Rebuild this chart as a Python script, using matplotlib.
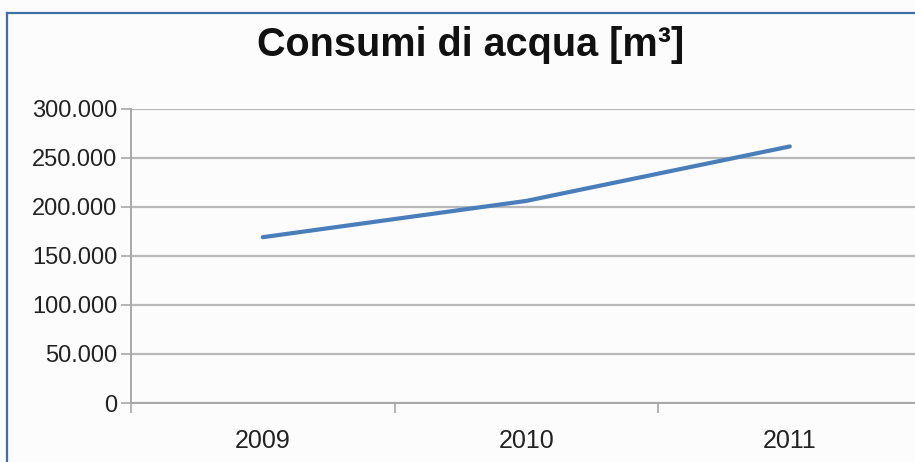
import matplotlib
matplotlib.use('Agg')
import matplotlib.pyplot as plt
from matplotlib.lines import Line2D

anni = ['2009', '2010', '2011']
consumi = [169000, 206000, 261500]
y_ticks = [0, 50000, 100000, 150000, 200000, 250000, 300000]
y_labels = ['0', '50.000', '100.000', '150.000', '200.000', '250.000', '300.000']

plt.rcParams['font.family'] = ['Liberation Sans', 'DejaVu Sans']

fig = plt.figure(figsize=(9.15, 4.62), dpi=100)
fig.patch.set_facecolor('#fcfcfc')

# cornice blu (solo sopra e a sinistra, il resto e' tagliato)
fig.add_artist(Line2D([7/915, 1], [1 - 13/462, 1 - 13/462], color='#3d6fa8', lw=1.6))
fig.add_artist(Line2D([7/915, 7/915], [0, 1 - 13/462], color='#3d6fa8', lw=1.6))

ax = fig.add_axes([131/915, 59/462, 3*263.5/915, 294.3/462])
ax.set_facecolor('#fcfcfc')

x = [i + 0.5 for i in range(len(anni))]
ax.plot(x, consumi, color='#4a7ebb', lw=3, solid_capstyle='round', zorder=3)

ax.set_xlim(0, 3)
ax.set_ylim(0, 300000)
ax.set_yticks(y_ticks)
ax.set_yticklabels(y_labels, fontsize=17, color='#222222')
ax.grid(axis='y', color='#b8b8b8', lw=1.6)

ax.set_xticks([0, 1, 2, 3])
ax.set_xticklabels([])
ax.set_xticks(x, minor=True)
ax.set_xticklabels(anni, minor=True, fontsize=18, color='#222222')
ax.tick_params(axis='x', which='minor', length=0, pad=19)
ax.tick_params(axis='x', which='major', length=7, color='#a8a8a8', width=1.2)
ax.tick_params(axis='y', length=7, color='#a8a8a8', width=1.2, pad=3)

for s in ['top', 'right']:
    ax.spines[s].set_visible(False)
ax.spines['left'].set_color('#a8a8a8')
ax.spines['bottom'].set_color('#a8a8a8')
ax.spines['left'].set_linewidth(1.4)
ax.spines['bottom'].set_linewidth(1.4)

fig.text(0.514, 1 - 45/462, 'Consumi di acqua [m³]', ha='center', va='center',
         fontsize=28.5, fontweight='bold', color='#111111')

plt.savefig('out.png', dpi=100)
